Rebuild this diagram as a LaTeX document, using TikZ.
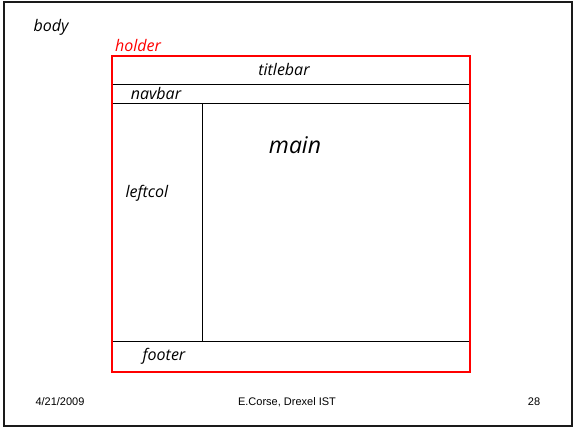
\documentclass[tikz,border=0pt]{standalone}
\usepackage{fontspec}
\setmainfont{Liberation Sans}
\newfontfamily\handfont{Open Sans}
\usetikzlibrary{positioning}
\definecolor{holderred}{HTML}{FF0000}
\definecolor{framegray}{HTML}{1A1A1A}
\tikzset{
  slideframe/.style={draw=framegray,line width=2.4pt},
  holderbox/.style={draw=holderred,line width=2pt},
  divider/.style={draw=black,line width=1pt},
  sketch/.style={font=\handfont\itshape\fontsize{16}{18}\selectfont,inner sep=0pt},
  bigsketch/.style={font=\handfont\itshape\fontsize{23}{26}\selectfont,inner sep=0pt},
  slidenote/.style={font=\fontsize{11}{13}\selectfont,inner sep=0pt}
}

\begin{document}
\begin{tikzpicture}[x=1pt,y=-1pt]
    \useasboundingbox (0,0) rectangle (574,430);
    \draw[slideframe] (4,2) rectangle (572,426);

    % holder and its parts
    \coordinate (hnw) at (112,56);
    \coordinate (hse) at (470,372);
    \draw[divider] (112,85) -- (470,85);
    \draw[divider] (112,104) -- (470,104);
    \draw[divider] (202,104) -- (202,342);
    \draw[divider] (112,342) -- (470,342);
    \draw[holderbox] (hnw) rectangle (hse);

    \node[sketch] (bodylbl) at (51,27) {body};
    \node[sketch,text=holderred] (holderlbl) at (138,46) {holder};
    \node[sketch] (titlebar) at (284,70) {titlebar};
    \node[sketch] (navbar) at (156,94) {navbar};
    \node[bigsketch] (mainlbl) at (295,145) {main};
    \node[sketch] (leftcol) at (147,193) {leftcol};
    \node[sketch] (footer) at (164,356) {footer};

    % slide footer
    \node[slidenote] (date) at (60,402) {4/21/2009};
    \node[slidenote] (author) at (287,402) {E.Corse, Drexel IST};
    \node[slidenote] (pagenum) at (534,402) {28};
\end{tikzpicture}
\end{document}
